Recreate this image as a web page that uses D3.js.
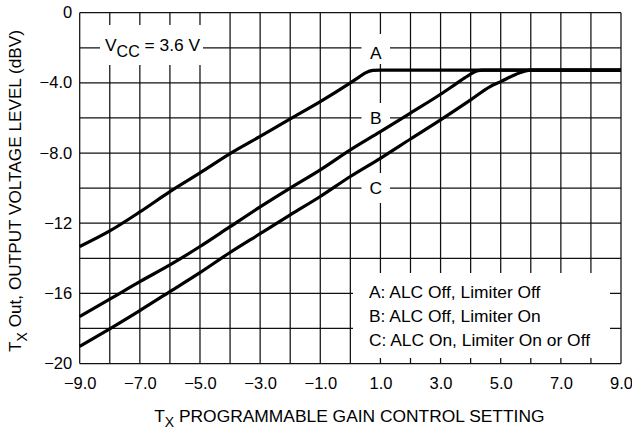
<!DOCTYPE html>
<html>
<head>
<meta charset="utf-8">
<script src="https://cdn.jsdelivr.net/npm/d3@7"></script>
<style>
  html, body { margin: 0; padding: 0; background: #fff; }
  svg { display: block; }
  text { font-family: "Liberation Sans", Arial, Helvetica, sans-serif; fill: #000; }
</style>
</head>
<body>
<svg id="chart" width="632" height="431"></svg>
<script>
// ---- data ----
const xValues = [-9, -8, -7, -6, -5, -4, -3, -2, -1, 0, 0.25, 0.5, 0.75, 1, 2, 3, 3.5, 3.8, 4.0, 4.2, 4.4, 4.65, 5.0, 5.5, 6.0, 7, 8, 9];
const seriesA = [-13.33, -12.44, -11.36, -10.2, -9.13, -8.03, -7.05, -6.05, -5.07, -4.0, -3.72, -3.43, -3.29, -3.27, -3.27, -3.27, -3.27, -3.27, -3.27, -3.27, -3.27, -3.27, -3.27, -3.27, -3.27, -3.27, -3.27, -3.27];
const seriesB = [-17.32, -16.33, -15.33, -14.38, -13.33, -12.2, -11.07, -10.0, -8.96, -7.82, null, null, null, -6.78, -5.72, -4.65, -4.07, -3.72, -3.5, -3.33, -3.27, -3.27, -3.27, -3.27, -3.27, -3.27, -3.27, -3.27];
const seriesC = [-19.03, -18.02, -16.98, -15.9, -14.82, -13.67, -12.6, -11.53, -10.48, -9.34, null, null, null, -8.3, -7.2, -6.11, null, null, -4.97, null, null, -4.21, -3.93, -3.52, -3.27, -3.27, -3.27, -3.27];
const seriesNames = ["A", "B", "C"];
const xTickValues = [-9, -7, -5, -3, -1, 1, 3, 5, 7, 9];
const xTickLabels = ["\u22129.0", "\u22127.0", "\u22125.0", "\u22123.0", "\u22121.0", "1.0", "3.0", "5.0", "7.0", "9.0"];
const yTickValues = [0, -4, -8, -12, -16, -20];
const yTickLabels = ["0", "\u22124.0", "\u22128.0", "\u221212", "\u221216", "\u221220"];
const xGridValues = d3.range(-9, 9.5, 1);
const yGridValues = d3.range(-20, 0.5, 2);
const legendLines = ["A: ALC Off, Limiter Off", "B: ALC Off, Limiter On", "C: ALC On, Limiter On or Off"];

// ---- layout ----
const L = 79.7, R = 621, T = 12.7, B = 363.5;
const svg = d3.select("#chart");
const x = d3.scaleLinear().domain([-9, 9]).range([L, R]);
const y = d3.scaleLinear().domain([-20, 0]).range([B, T]);

// grid
const grid = svg.append("g").attr("stroke", "#111").attr("stroke-width", 1.25);
grid.selectAll("line.v").data(xGridValues).join("line")
  .attr("x1", d => x(d)).attr("x2", d => x(d)).attr("y1", T).attr("y2", B);
grid.selectAll("line.h").data(yGridValues).join("line")
  .attr("x1", L).attr("x2", R).attr("y1", d => y(d)).attr("y2", d => y(d));

// white boxes for annotations
const boxes = [
  [100, 25, 103, 40],     // Vcc
  [361.5, 34, 28.5, 30],  // A
  [361.5, 103, 28.5, 28], // B
  [361.5, 173, 28.5, 30], // C
  [353, 273, 257, 85]     // legend
];
svg.append("g").selectAll("rect").data(boxes).join("rect")
  .attr("x", d => d[0]).attr("y", d => d[1]).attr("width", d => d[2]).attr("height", d => d[3])
  .attr("fill", "#fff");

// curves
const allSeries = [seriesA, seriesB, seriesC];
const line = d3.line()
  .x(d => x(d[0])).y(d => y(d[1]))
  .curve(d3.curveMonotoneX);
svg.append("g").selectAll("path").data(allSeries).join("path")
  .attr("d", s => line(xValues.map((v, i) => [v, s[i]]).filter(p => p[1] !== null)))
  .attr("fill", "none").attr("stroke", "#000").attr("stroke-width", 3.2)
  .attr("stroke-linejoin", "round");

// axes tick labels
const xAxis = d3.axisBottom(x).tickValues(xTickValues)
  .tickFormat((d, i) => xTickLabels[i]).tickSize(0).tickPadding(0);
const gx = svg.append("g").attr("transform", `translate(0,${B})`).call(xAxis);
gx.select(".domain").remove();
gx.selectAll("text").attr("y", 0).attr("dy", null).attr("transform", "translate(0,25)")
  .style("font-size", "16.5px").style("font-family", "'Liberation Sans', Arial, sans-serif");

const yAxis = d3.axisLeft(y).tickValues(yTickValues)
  .tickFormat((d, i) => yTickLabels[i]).tickSize(0).tickPadding(0);
const gy = svg.append("g").attr("transform", `translate(${L - 7.5},0)`).call(yAxis);
gy.select(".domain").remove();
gy.selectAll("text").attr("x", 0).attr("dy", null).attr("transform", "translate(0,5)")
  .style("font-size", "16.5px").style("font-family", "'Liberation Sans', Arial, sans-serif");

// series labels A, B, C
const labelY = [-2.32, -6.0, -10.0];
svg.append("g").selectAll("text").data(seriesNames).join("text")
  .attr("x", 375.8).attr("y", (d, i) => y(labelY[i]) + 6)
  .attr("text-anchor", "middle").style("font-size", "17.4px").text(d => d);

// Vcc label
const vcc = svg.append("text").attr("x", 105).attr("y", 51.3).style("font-size", "17.4px");
vcc.append("tspan").text("V");
vcc.append("tspan").attr("dy", 5.6).style("font-size", "16px").text("CC");
vcc.append("tspan").attr("dy", -5.6).text(" = 3.6 V");

// legend
svg.append("g").selectAll("text").data(legendLines).join("text")
  .attr("x", 369).attr("y", (d, i) => 298 + i * 24)
  .style("font-size", "17.4px").text(d => d);

// x title
const xt = svg.append("text").attr("x", (L + R) / 2 - 1).attr("y", 421.5)
  .attr("text-anchor", "middle").style("font-size", "17.4px");
xt.append("tspan").text("T");
xt.append("tspan").attr("dy", 5.6).style("font-size", "14px").text("X");
xt.append("tspan").attr("dy", -5.6).text(" PROGRAMMABLE GAIN CONTROL SETTING");

// y title
const yt = svg.append("text").attr("transform", "translate(21,191) rotate(-90)")
  .attr("text-anchor", "middle").style("font-size", "17.2px");
yt.append("tspan").text("T");
yt.append("tspan").attr("dy", 5.6).style("font-size", "14px").text("X");
yt.append("tspan").attr("dy", -5.6).text(" Out, OUTPUT VOLTAGE LEVEL (dBV)");
</script>
</body>
</html>
